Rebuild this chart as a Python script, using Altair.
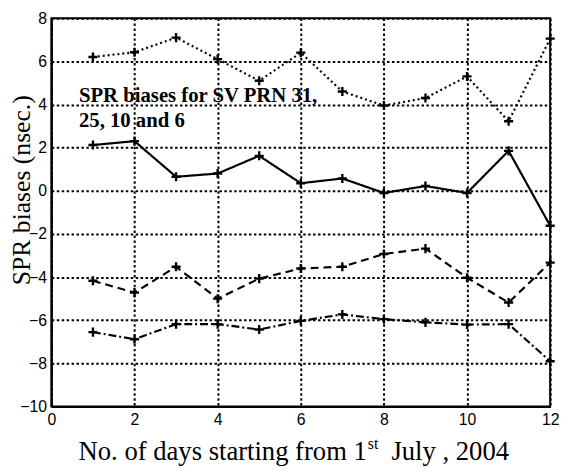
import altair as alt
import pandas as pd

# ---- data ----
days = [1, 2, 3, 4, 5, 6, 7, 8, 9, 10, 11, 12]
prn31 = [6.2, 6.42, 7.1, 6.1, 5.1, 6.4, 4.6, 3.95, 4.3, 5.3, 3.22, 7.05]
prn25 = [2.12, 2.3, 0.65, 0.8, 1.62, 0.35, 0.57, -0.1, 0.22, -0.1, 1.85, -1.62]
prn10 = [-4.17, -4.72, -3.52, -5.0, -4.07, -3.6, -3.52, -2.93, -2.68, -4.03, -5.18, -3.33]
prn6 = [-6.55, -6.88, -6.18, -6.18, -6.43, -6.03, -5.73, -5.95, -6.1, -6.2, -6.18, -7.9]

series_names = ["PRN 31", "PRN 25", "PRN 10", "PRN 6"]
series_values = [prn31, prn25, prn10, prn6]
series_dash = [[2, 3], [1, 0], [8, 5], [8, 3, 2, 3]]

x_ticks = [0, 2, 4, 6, 8, 10, 12]
y_ticks = [-10, -8, -6, -4, -2, 0, 2, 4, 6, 8]

y_title = "SPR biases (nsec.)"
x_title_main = "No. of days starting from 1"
x_title_sup = "st"
x_title_end = "July , 2004"
note_line1 = "SPR biases for SV PRN 31,"
note_line2 = "25, 10 and 6"

rows = []
for name, vals in zip(series_names, series_values):
    for d, v in zip(days, vals):
        rows.append({"day": d, "bias": v, "series": name})
df = pd.DataFrame(rows)

W, H = 506, 394

axis_common = dict(
    labelFont="Liberation Sans", labelFontSize=16, labelColor="black",
    labelPadding=5, labelFlush=False, labelOverlap=False,
    domainColor="black", domainWidth=2, ticks=False,
    grid=True, gridColor="black", gridDash=[2.5, 2.5], gridWidth=2, gridOpacity=1,
    format="d",
)

x_enc = alt.X("day:Q", scale=alt.Scale(domain=[0, 12], nice=False),
              axis=alt.Axis(values=x_ticks, title=None, **axis_common))
y_enc = alt.Y("bias:Q", scale=alt.Scale(domain=[-10, 8], nice=False),
              axis=alt.Axis(values=y_ticks, title=y_title,
                            titleFont="Liberation Serif", titleFontSize=26,
                            titleFontWeight="normal", titleColor="black",
                            titleX=-30, titleY=174, titleAngle=-90,
                            titleAlign="center", titleBaseline="middle",
                            **axis_common))

base = alt.Chart(df)

lines = base.mark_line(color="black", strokeWidth=2.2).encode(
    x=x_enc, y=y_enc,
    strokeDash=alt.StrokeDash("series:N",
                              scale=alt.Scale(domain=series_names, range=series_dash),
                              legend=None),
    order="day:Q",
)

points = base.mark_point(shape="M-1,0H1M0,-1V1", size=85, filled=False,
                         color="black", strokeWidth=2.4, opacity=1).encode(
    x="day:Q", y="bias:Q", detail="series:N"
)

one = pd.DataFrame({"k": [0]})
tx = alt.Chart(one)

note1 = tx.mark_text(font="Liberation Serif", fontSize=21, fontWeight="bold",
                     align="left", baseline="alphabetic", color="black").encode(
    x=alt.value(28), y=alt.value(85), text=alt.value(note_line1))
note2 = tx.mark_text(font="Liberation Serif", fontSize=21, fontWeight="bold",
                     align="left", baseline="alphabetic", color="black").encode(
    x=alt.value(28), y=alt.value(110), text=alt.value(note_line2))

xt1 = tx.mark_text(font="Liberation Serif", fontSize=27, align="right",
                   baseline="alphabetic", color="black").encode(
    x=alt.value(320), y=alt.value(H + 54), text=alt.value(x_title_main))
xt2 = tx.mark_text(font="Liberation Serif", fontSize=16, align="left",
                   baseline="alphabetic", color="black").encode(
    x=alt.value(321), y=alt.value(H + 43), text=alt.value(x_title_sup))
xt3 = tx.mark_text(font="Liberation Serif", fontSize=27, align="left",
                   baseline="alphabetic", color="black").encode(
    x=alt.value(345), y=alt.value(H + 54), text=alt.value(x_title_end))

chart = alt.layer(lines, points, note1, note2, xt1, xt2, xt3).properties(
    width=W, height=H,
    autosize=alt.AutoSizeParams(type="none"),
    padding={"left": 44, "top": 7, "right": 12, "bottom": 58},
).configure_view(stroke="black", strokeWidth=2)

chart.save("out.html", embed_options={"renderer": "svg", "actions": False})
